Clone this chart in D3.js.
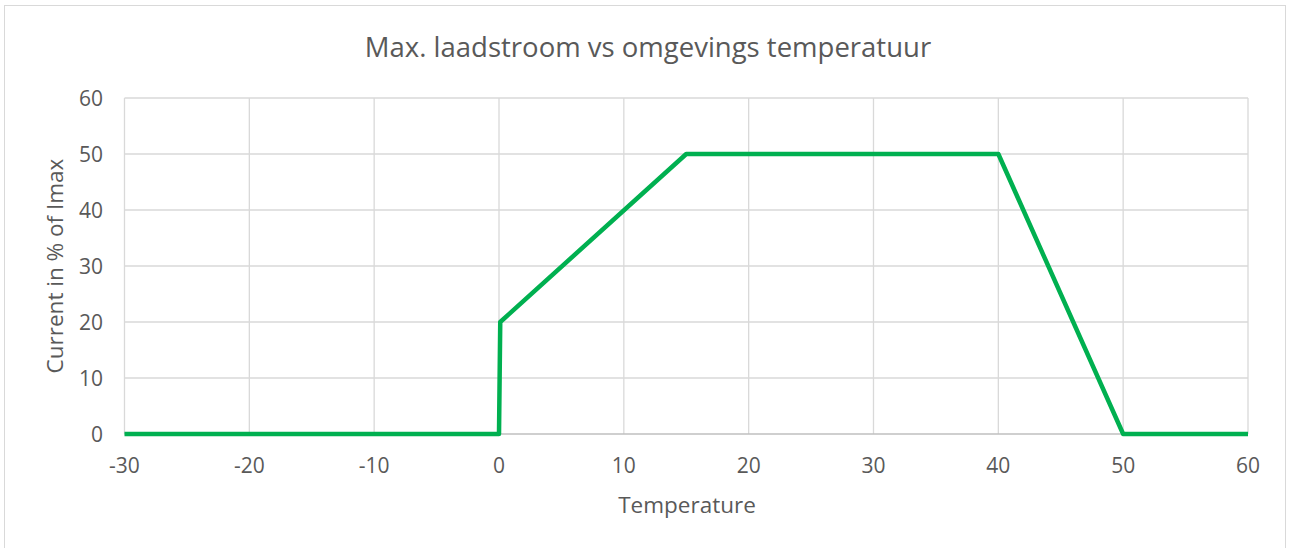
<!DOCTYPE html>
<html><head><meta charset="utf-8">
<script src="https://cdn.jsdelivr.net/npm/d3@7"></script>
<style>
html,body{margin:0;padding:0;background:#fff;}
text{font-family:"Open Sans","Liberation Sans",sans-serif;fill:#595959;}
</style></head>
<body>
<svg id="c" width="1290" height="548"></svg>
<script>
const temperature = [-30, 0, 0.1, 15, 40, 50, 60];
const current = [0, 0, 20, 50, 50, 0, 0];
const xTicks = [-30, -20, -10, 0, 10, 20, 30, 40, 50, 60];
const yTicks = [0, 10, 20, 30, 40, 50, 60];
const title = "Max. laadstroom vs omgevings temperatuur";
const xTitle = "Temperature";
const yTitle = "Current in % of Imax";

const svg = d3.select("#c");
svg.append("rect").attr("x",4.5).attr("y",5.5).attr("width",1281).attr("height",548)
  .attr("fill","#fff").attr("stroke","#d9d9d9").attr("stroke-width",1);

const pL=124.5, pR=1248, pT=98, pB=434;
const x = d3.scaleLinear().domain([-30,60]).range([pL,pR]);
const y = d3.scaleLinear().domain([0,60]).range([pB,pT]);

const g = svg.append("g");
g.selectAll(".hg").data(yTicks.filter(d=>d!==0)).join("line")
  .attr("x1",pL).attr("x2",pR).attr("y1",d=>y(d)).attr("y2",d=>y(d))
  .attr("stroke","#d9d9d9").attr("stroke-width",1.3);
g.selectAll(".vg").data(xTicks).join("line")
  .attr("x1",d=>x(d)).attr("x2",d=>x(d)).attr("y1",pT).attr("y2",pB)
  .attr("stroke","#d9d9d9").attr("stroke-width",1.3);
g.append("line").attr("x1",pL).attr("x2",pR).attr("y1",pB).attr("y2",pB)
  .attr("stroke","#bfbfbf").attr("stroke-width",1.3);

g.selectAll(".xl").data(xTicks).join("text")
  .attr("x",d=>x(d)).attr("y",pB+39).attr("text-anchor","middle")
  .attr("font-size",21).text(d=>d);
g.selectAll(".yl").data(yTicks).join("text")
  .attr("x",103).attr("y",d=>y(d)+7.5).attr("text-anchor","end")
  .attr("font-size",21).text(d=>d);

const pts = temperature.map((t,i)=>[t,current[i]]);
g.append("path").datum(pts)
  .attr("d", d3.line().x(d=>x(d[0])).y(d=>y(d[1])))
  .attr("fill","none").attr("stroke","#00B050").attr("stroke-width",4.5)
  .attr("stroke-linejoin","round");

svg.append("text").attr("x",648).attr("y",57).attr("text-anchor","middle")
  .attr("font-size",27.5).text(title);
svg.append("text").attr("x",687).attr("y",513).attr("text-anchor","middle")
  .attr("font-size",22.5).text(xTitle);
svg.append("text").attr("transform","translate(63,266) rotate(-90)").attr("text-anchor","middle")
  .attr("font-size",22.5).text(yTitle);
</script>
</body></html>
